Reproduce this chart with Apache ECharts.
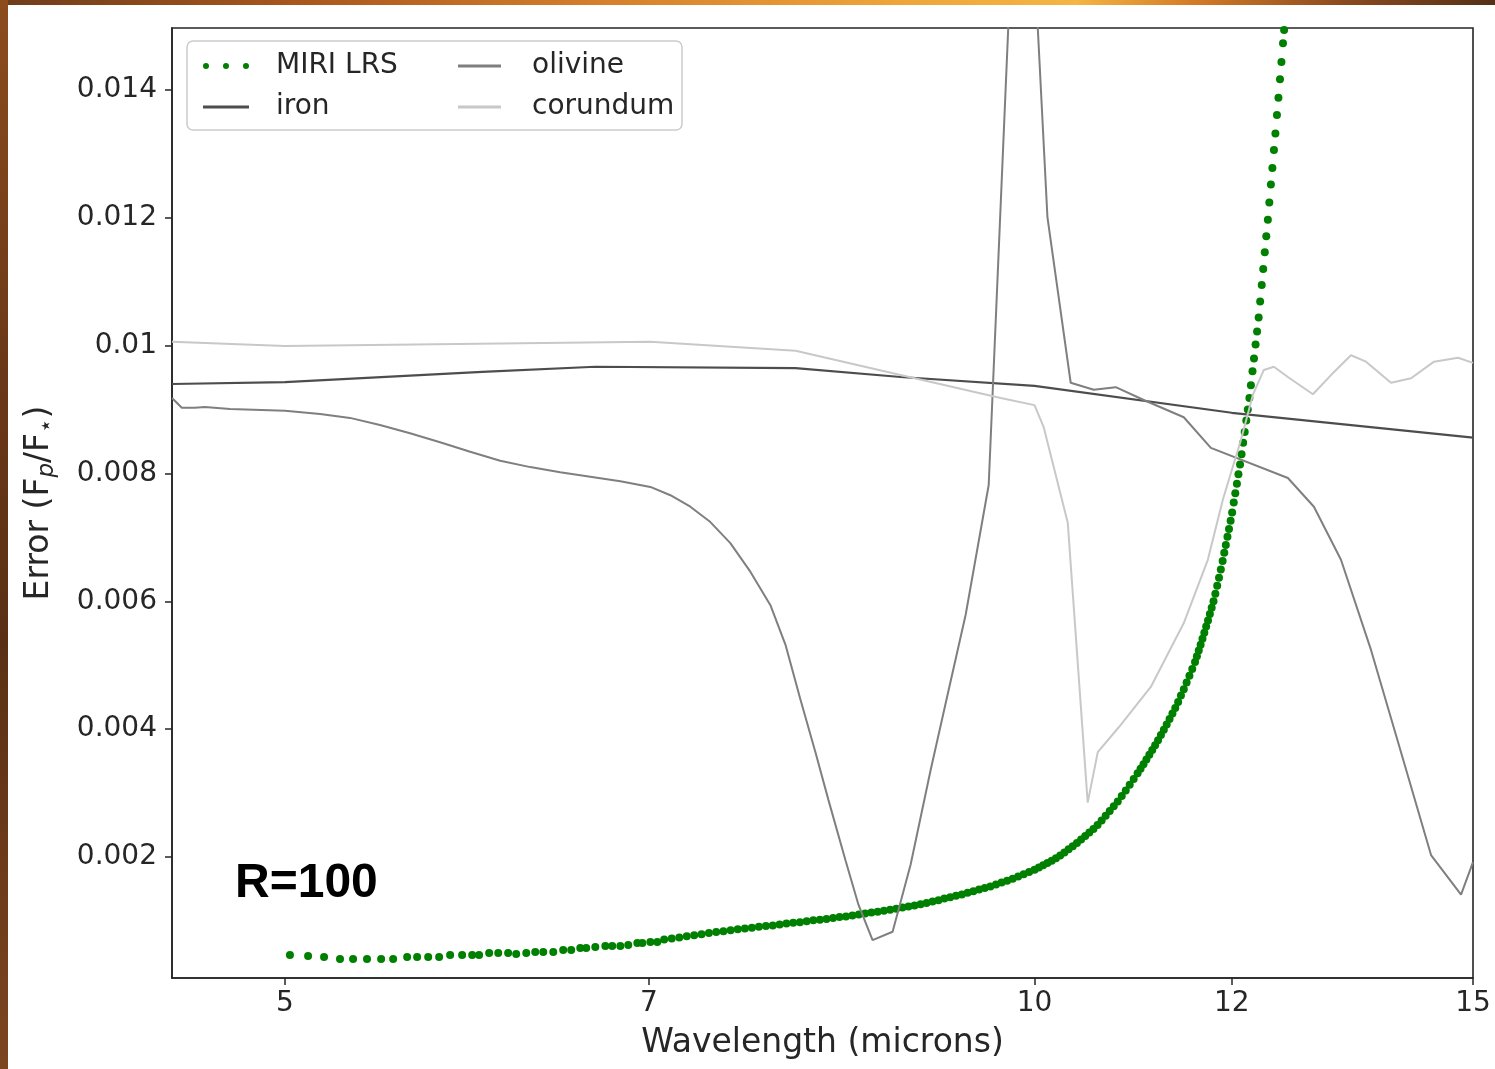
<!DOCTYPE html>
<html>
<head>
<meta charset="utf-8">
<script src="https://cdn.jsdelivr.net/npm/echarts@6/dist/echarts.min.js"></script>
<style>
html,body{margin:0;padding:0;background:#fff;}
#chart{width:1495px;height:1069px;}
</style>
</head>
<body>
<div id="chart"></div>
<script>
// ---- data (wavelength in microns, error in Fp/F*) ----
const xTicks = [5, 7, 10, 12, 15];
const yTicks = [0.002, 0.004, 0.006, 0.008, 0.01, 0.012, 0.014];

const miriLRS = [
[5.023,0.000467],[5.108,0.000451],[5.184,0.000435],[5.261,0.000404],[5.325,0.000404],[5.394,0.000404],
[5.465,0.000404],[5.526,0.000404],[5.598,0.000435],[5.650,0.000435],[5.708,0.000435],[5.766,0.000435],
[5.825,0.000467],[5.890,0.000467],[5.945,0.000467],[5.983,0.000467],[6.039,0.000498],[6.090,0.000498],
[6.146,0.000498],[6.192,0.000482],[6.250,0.000498],[6.302,0.000514],[6.349,0.000514],[6.408,0.000514],
[6.467,0.000545],[6.515,0.000545],[6.570,0.000576],[6.606,0.000576],[6.662,0.000592],[6.724,0.000607],
[6.767,0.000607],[6.818,0.000607],[6.868,0.000623],[6.926,0.000654],[6.958,0.000654],[7.010,0.00067],
[7.055,0.00067],
[7.10,0.00071],[7.15,0.000725],[7.20,0.00074],[7.25,0.00076],[7.30,0.000775],[7.35,0.00079],[7.40,0.00081],
[7.45,0.000825],[7.50,0.00084],[7.55,0.000855],[7.60,0.00087],[7.65,0.00088],[7.70,0.000895],[7.75,0.00091],
[7.80,0.00092],[7.85,0.00093],[7.90,0.000945],[7.95,0.00096],[8.00,0.00097],[8.05,0.00098],[8.10,0.000995],
[8.15,0.00101],[8.20,0.00102],[8.25,0.00103],[8.30,0.001045],[8.35,0.00106],[8.40,0.00107],[8.45,0.001085],
[8.50,0.0011],[8.55,0.001115],[8.60,0.00113],[8.65,0.001145],[8.70,0.00116],[8.75,0.001175],[8.80,0.00119],
[8.85,0.00121],[8.90,0.001225],[8.95,0.00124],[9.00,0.00126],[9.05,0.00128],[9.10,0.001305],[9.15,0.001325],
[9.20,0.00135],[9.25,0.00137],[9.30,0.001395],[9.35,0.001415],[9.40,0.00144],[9.45,0.001465],[9.50,0.00149],
[9.55,0.001515],[9.60,0.00154],[9.65,0.00157],[9.70,0.0016],[9.75,0.00163],[9.80,0.00166],[9.85,0.001695],
[9.90,0.00173],[9.95,0.001765],[10.00,0.0018],
[10.04,0.001835],[10.08,0.00187],[10.12,0.001905],[10.16,0.00194],[10.20,0.00198],[10.24,0.002025],
[10.28,0.00207],[10.32,0.00212],[10.36,0.00217],[10.40,0.00222],[10.44,0.002275],[10.48,0.00233],
[10.52,0.002385],[10.56,0.00244],[10.60,0.0025],[10.64,0.00257],[10.68,0.002645],[10.72,0.00272],
[10.76,0.002795],[10.80,0.00287],[10.84,0.002955],[10.88,0.00304],[10.92,0.00313],[10.96,0.00322],
[11.00,0.00331],
[11.03,0.00338],[11.06,0.00345],[11.09,0.003525],[11.12,0.0036],[11.15,0.003675],[11.18,0.00375],
[11.21,0.003825],[11.24,0.00391],[11.27,0.00399],[11.30,0.004075],[11.33,0.00416],[11.36,0.004245],
[11.39,0.00433],[11.42,0.004425],[11.45,0.004525],[11.48,0.004625],[11.51,0.00473],[11.54,0.004835],
[11.57,0.00494],[11.60,0.00505],
[11.62,0.00514],[11.64,0.00523],[11.66,0.00532],[11.68,0.005415],[11.70,0.00551],[11.72,0.005605],
[11.74,0.0057],[11.76,0.0058],[11.78,0.0059],[11.80,0.006],[11.82,0.00612],[11.84,0.006245],
[11.86,0.00637],[11.88,0.0065],[11.90,0.00663],
[11.918,0.00676],[11.935,0.00688],[11.953,0.00701],[11.970,0.00713],[11.988,0.00726],[12.005,0.00739],
[12.023,0.007545],[12.040,0.00769],[12.058,0.00784],[12.075,0.00799],[12.093,0.00814],[12.110,0.0083],
[12.128,0.00848],[12.145,0.00865],[12.163,0.00883],[12.180,0.009],[12.198,0.00918],[12.215,0.00938],
[12.233,0.0096],[12.250,0.0098],[12.268,0.01002],[12.285,0.01022],[12.303,0.01044],[12.320,0.01069],
[12.338,0.01095],[12.355,0.0112],[12.373,0.01146],[12.390,0.01171],[12.408,0.01197],[12.425,0.01224],
[12.443,0.01252],[12.460,0.01278],[12.478,0.01306],[12.495,0.01332],[12.513,0.01361],[12.530,0.01388],
[12.548,0.01417],[12.565,0.01444],[12.583,0.01473],[12.596,0.01494],[12.618,0.01529]
];

const iron = [
[4.504,0.0094],[5.0,0.00943],[6.0,0.00959],[6.662,0.00967],[8.017,0.00965],[8.835,0.00951],
[10.0,0.00937],[12.0,0.00895],[15.0,0.00856]
];

const olivine = [
[4.504,0.00918],[4.545,0.00903],[4.600,0.00903],[4.643,0.00904],[4.752,0.00901],[5.0,0.00898],
[5.165,0.00893],[5.310,0.00887],[5.459,0.00876],[5.613,0.00863],[5.771,0.00849],[5.934,0.00834],
[6.101,0.0082],[6.273,0.0081],[6.449,0.00802],[6.631,0.00795],[6.818,0.00788],[7.01,0.00779],
[7.141,0.00766],[7.274,0.00748],[7.41,0.00724],[7.548,0.00691],[7.69,0.00646],[7.833,0.00594],
[7.943,0.00532],[8.054,0.00446],[8.166,0.00364],[8.265,0.00289],[8.396,0.00195],[8.498,0.00125],
[8.609,0.0007],[8.77,0.00083],[8.917,0.00188],[9.084,0.00336],[9.236,0.00461],[9.383,0.00579],
[9.585,0.00782],[9.882,0.0199],[10.12,0.01201],[10.34,0.00942],[10.563,0.00931],[10.78,0.00935],
[11.063,0.00915],[11.48,0.00888],[11.771,0.0084],[12.64,0.00793],[12.948,0.00748],[13.276,0.00665],
[13.65,0.00524],[14.034,0.00364],[14.429,0.00203],[14.835,0.00141],[15.0,0.00192]
];

const corundum = [
[4.504,0.01006],[5.0,0.009995],[7.01,0.01006],[8.017,0.00992],[8.835,0.00954],[9.692,0.00918],
[10.0,0.00907],[10.084,0.00873],[10.312,0.00723],[10.504,0.00285],[10.602,0.00364],[10.81,0.00403],
[11.135,0.00466],[11.48,0.00566],[11.738,0.00665],[11.902,0.00759],[12.102,0.00852],[12.237,0.00923],
[12.362,0.00962],[12.477,0.00967],[12.64,0.00951],[12.936,0.00924],[13.154,0.00954],[13.399,0.00985],
[13.587,0.00975],[13.905,0.00942],[14.165,0.00949],[14.469,0.00975],[14.794,0.00981],[15.0,0.00973]
];

// ---- chart ----
const toLog = arr => arr.map(p => [Math.log10(p[0]), p[1]]);
const FONT = 'DejaVu Sans';
const TXT = '#262626';
const dotsIcon = 'path://M0,3a3,3 0 1,0 6,0a3,3 0 1,0 -6,0zM20,3a3,3 0 1,0 6,0a3,3 0 1,0 -6,0zM40,3a3,3 0 1,0 6,0a3,3 0 1,0 -6,0z';
const lineIcon = 'path://M0,0H44V3H0Z';
const C_IRON = '#4d4d4d', C_OLI = '#7f7f7f', C_COR = '#c8c8c8', C_MIRI = '#008000';

const chart = echarts.init(document.getElementById('chart'), null, {renderer: 'canvas'});
const legendText = (pad) => ({fontSize: 28, fontFamily: FONT, color: TXT, lineHeight: 32, padding: [0, 0, 0, pad]});

chart.setOption({
  animation: false,
  backgroundColor: '#ffffff',
  tooltip: {show: false},
  grid: {left: 172, top: 28, right: 22, bottom: 91, show: true, borderColor: '#262626', borderWidth: 1.6,
         backgroundColor: 'transparent', containLabel: false, outerBoundsMode: 'none'},
  xAxis: {
    type: 'value',
    min: Math.log10(4.504), max: Math.log10(15),
    name: 'Wavelength (microns)', nameLocation: 'middle', nameGap: 45, nameMoveOverlap: false,
    nameTextStyle: {fontFamily: FONT, fontSize: 33, color: TXT, lineHeight: 40},
    axisLine: {show: true, onZero: false, lineStyle: {color: '#262626', width: 1.6}},
    axisTick: {show: true, inside: false, length: 7, lineStyle: {color: '#262626', width: 1.5},
               customValues: xTicks.map(t => Math.log10(t))},
    axisLabel: {show: true, margin: 10, fontFamily: FONT, fontSize: 28, color: TXT, lineHeight: 32,
                customValues: xTicks.map(t => Math.log10(t)),
                formatter: v => String(Math.round(Math.pow(10, v)))},
    splitLine: {show: false}
  },
  yAxis: {
    type: 'value',
    min: 0.000107, max: 0.01497,
    name: '{a|Error (F}{p|p}{a|/F}{s|⋆}{a|)}', nameLocation: 'middle', nameRotate: 90, nameGap: 113,
    nameMoveOverlap: false,
    nameTextStyle: {fontFamily: FONT, fontSize: 33, color: TXT,
      rich: {
        a: {fontFamily: FONT, fontSize: 33, color: TXT, lineHeight: 40},
        p: {fontFamily: FONT, fontSize: 23, fontStyle: 'italic', color: TXT, lineHeight: 16, verticalAlign: 'bottom'},
        s: {fontFamily: FONT, fontSize: 23, color: TXT, lineHeight: 16, verticalAlign: 'bottom'}
      }},
    axisLine: {show: true, onZero: false, lineStyle: {color: '#262626', width: 1.6}},
    axisTick: {show: true, inside: false, length: 7, lineStyle: {color: '#262626', width: 1.5},
               customValues: yTicks},
    axisLabel: {show: true, margin: 15, fontFamily: FONT, fontSize: 28, color: TXT,
                customValues: yTicks,
                formatter: v => String(+Number(v).toFixed(3))},
    splitLine: {show: false}
  },
  legend: [
    {data: [{name: 'MIRI LRS', icon: dotsIcon}, {name: 'iron', icon: lineIcon}],
     orient: 'vertical', left: 203, top: 50, padding: 0, itemWidth: 46, itemHeight: 6, itemGap: 9,
     selectedMode: false, z: 6, itemStyle: {borderWidth: 0}, textStyle: legendText(22)},
    {data: [{name: 'olivine', icon: lineIcon}, {name: 'corundum', icon: lineIcon}],
     orient: 'vertical', left: 458, top: 50, padding: 0, itemWidth: 43, itemHeight: 6, itemGap: 9,
     selectedMode: false, z: 6, itemStyle: {borderWidth: 0}, textStyle: legendText(26)}
  ],
  graphic: [
    {type: 'rect', silent: true, z: 0, shape: {x: 0, y: 0, width: 1495, height: 5},
     style: {fill: new echarts.graphic.LinearGradient(0, 0, 1, 0, [
       {offset: 0, color: '#6e3c1a'}, {offset: 0.2, color: '#a9571d'}, {offset: 0.4, color: '#d47f2c'},
       {offset: 0.6, color: '#eea53a'}, {offset: 0.72, color: '#f4b542'}, {offset: 0.8, color: '#d27a27'},
       {offset: 0.9, color: '#8a4a1f'}, {offset: 1, color: '#553016'}])}},
    {type: 'rect', silent: true, z: 0, shape: {x: 0, y: 0, width: 8, height: 1069},
     style: {fill: new echarts.graphic.LinearGradient(0, 0, 0, 1, [
       {offset: 0, color: '#8c4c1e'}, {offset: 0.35, color: '#6a3818'}, {offset: 0.6, color: '#5a3014'},
       {offset: 1, color: '#7c4520'}])}},
    {type: 'rect', silent: true, z: 5, shape: {x: 187, y: 41, width: 495, height: 89, r: 6},
     style: {fill: 'rgba(255,255,255,0.85)', stroke: '#cccccc', lineWidth: 1.5}},
    {type: 'text', silent: true, z: 7, x: 235, y: 884,
     style: {text: 'R=100', font: 'bold 48px "Liberation Sans", Arial, sans-serif', fill: '#000000',
             verticalAlign: 'middle', textVerticalAlign: 'middle', align: 'left'}}
  ],
  series: [
    {name: 'MIRI LRS', type: 'scatter', data: toLog(miriLRS), symbol: 'circle', symbolSize: 8,
     itemStyle: {color: C_MIRI, opacity: 1}, clip: true, z: 2, emphasis: {disabled: true}},
    {name: 'iron', type: 'line', data: toLog(iron), showSymbol: false, symbol: 'none', clip: true, z: 3,
     lineStyle: {color: C_IRON, width: 2.2}, itemStyle: {color: C_IRON}, emphasis: {disabled: true}},
    {name: 'olivine', type: 'line', data: toLog(olivine), showSymbol: false, symbol: 'none', clip: true, z: 3,
     lineStyle: {color: C_OLI, width: 2}, itemStyle: {color: C_OLI}, emphasis: {disabled: true}},
    {name: 'corundum', type: 'line', data: toLog(corundum), showSymbol: false, symbol: 'none', clip: true, z: 3,
     lineStyle: {color: C_COR, width: 2}, itemStyle: {color: C_COR}, emphasis: {disabled: true}}
  ]
});
</script>
</body>
</html>
